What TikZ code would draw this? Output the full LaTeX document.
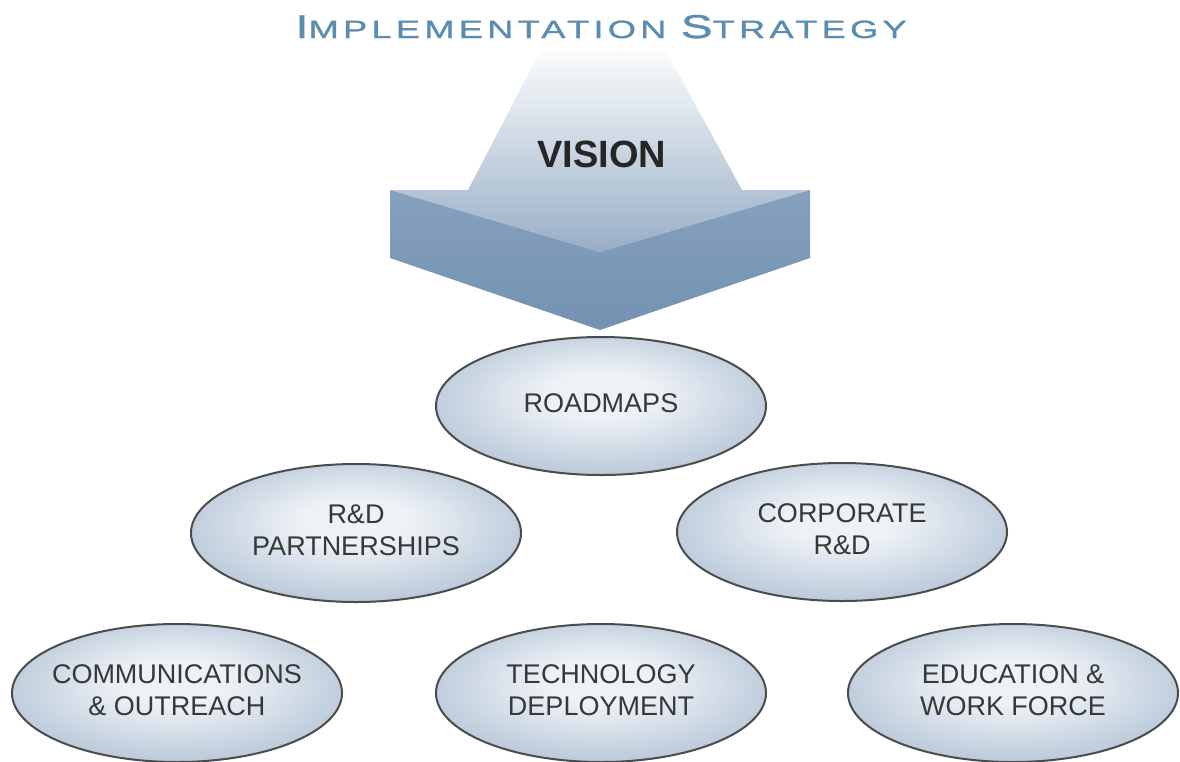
\documentclass[tikz,border=0pt]{standalone}
\usepackage{fontspec}
\setmainfont{Liberation Sans}
\newfontfamily\titlefont[FakeStretch=1.45,LetterSpace=17,FakeBold=1.2]{Liberation Sans}
\usetikzlibrary{shapes.geometric}
\definecolor{titleblue}{HTML}{5B8DB0}
\definecolor{ellin}{HTML}{EEF2F6}
\definecolor{ellout}{HTML}{7D99B9}
\definecolor{facedark}{HTML}{7491B1}
\definecolor{facelight}{HTML}{86A1BE}
\definecolor{shaftlow}{HTML}{98AEC6}
\definecolor{labelgray}{HTML}{383838}
\pgfdeclareradialshading{ellshade}{\pgfpoint{0bp}{5bp}}{color(0bp)=(ellin); color(8bp)=(ellin); color(50bp)=(ellout)}
\newcommand{\ellbox}[1]{\makebox[0pt]{\begin{tabular}{@{}c@{}}#1\end{tabular}}}
\newcommand{\bigc}[1]{{\fontsize{33}{33}\selectfont #1}}

\begin{document}
\begin{tikzpicture}[x=1pt, y=-1pt]
\tikzstyle{goal}=[shape=ellipse, minimum width=330pt, minimum height=138pt, inner sep=0pt, draw=black!70, line width=2pt, shading=ellshade, font=\fontsize{27}{32}\selectfont, text=labelgray]
\useasboundingbox (0,0) rectangle (1180,761);

% vision arrow
\shade[top color=white, bottom color=shaftlow] (545,42) -- (661,42) -- (742,190) -- (810,190) -- (600,252) -- (390,190) -- (468,190) -- cycle;
\shade[top color=facelight, bottom color=facedark] (390,190) -- (600,252) -- (810,190) -- (810,258) -- (600,330) -- (390,258) -- cycle;

\node[anchor=base, text=titleblue, font=\titlefont\fontsize{25}{25}\selectfont] (title) at (601,38) {\bigc{I}MPLEMENTATION \bigc{S}TRATEGY};
\node[anchor=base, font=\fontsize{38}{38}\selectfont\bfseries, text=black!85] (vision) at (602,167) {VISION};

% ellipses
\node[goal] (roadmaps) at (601,406) {\ellbox{ROADMAPS}};
\node[goal] (partners) at (356,533) {\ellbox{R\&D\\PARTNERSHIPS}};
\node[goal] (corporate) at (842,532) {\ellbox{CORPORATE\\R\&D}};
\node[goal] (outreach) at (177,693) {\ellbox{COMMUNICATIONS\\\& OUTREACH}};
\node[goal] (deployment) at (601,693) {\ellbox{TECHNOLOGY\\DEPLOYMENT}};
\node[goal] (workforce) at (1013,693) {\ellbox{EDUCATION \&\\WORK FORCE}};
\end{tikzpicture}
\end{document}
